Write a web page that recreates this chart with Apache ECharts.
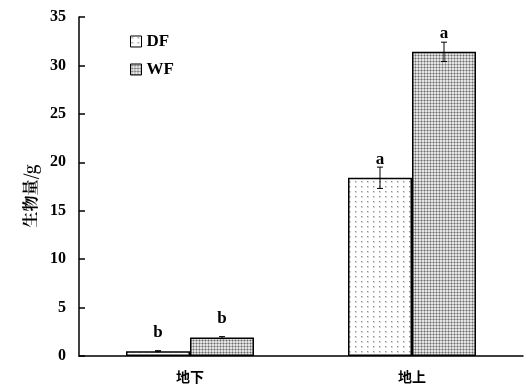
<!DOCTYPE html>
<html><head><meta charset="utf-8">
<script src="https://cdn.jsdelivr.net/npm/echarts@6/dist/echarts.min.js"></script>
<style>html,body{margin:0;padding:0;background:#fff}#c{width:529px;height:387px}</style>
</head><body><div id="c"></div>
<script>
const categories = ['地下', '地上'];
const seriesNames = ['DF', 'WF'];
const dfValues = [0.5, 18.4];
const wfValues = [1.9, 31.4];
const dfErr = [0.05, 1.1];
const wfErr = [0.1, 1.0];
const dfLetters = ['b', 'a'];
const wfLetters = ['b', 'a'];
const yTicks = [0, 5, 10, 15, 20, 25, 30, 35];

function makePattern(kind) {
  const c = document.createElement('canvas');
  const ctx = c.getContext('2d');
  if (kind === 'dots') {
    c.width = 6; c.height = 5;
    ctx.fillStyle = '#fff'; ctx.fillRect(0, 0, 6, 5);
    ctx.fillStyle = '#d8d8d8'; ctx.fillRect(1, 1, 2, 2);
    ctx.fillStyle = '#8c8c8c'; ctx.fillRect(1, 1, 1, 1);
  } else {
    c.width = 3; c.height = 3;
    ctx.fillStyle = '#e4e4e4'; ctx.fillRect(0, 0, 3, 3);
    ctx.fillStyle = '#ababab'; ctx.fillRect(0, 1, 3, 1); ctx.fillRect(1, 0, 1, 3);
    ctx.fillStyle = '#6e6e6e'; ctx.fillRect(1, 1, 1, 1);
  }
  return { image: c, repeat: 'repeat' };
}
const dfFill = makePattern('dots');
const wfFill = makePattern('check');

const serif = '"Liberation Serif", "Times New Roman", "Noto Serif CJK SC", "Noto Sans CJK SC", serif';

const chart = echarts.init(document.getElementById('c'), null, { renderer: 'canvas' });

function errSeries(values, errs, letters, idx) {
  return {
    type: 'custom',
    z: 10,
    silent: true,
    data: values.map((v, i) => [i, v, errs[i]]),
    renderItem: function (params, api) {
      const i = api.value(0), v = api.value(1), e = api.value(2);
      const letter = letters[params.dataIndex];
      const barW = 64;
      const cx = api.coord([i, 0])[0] + (idx === 0 ? -barW / 2 : barW / 2);
      const barTop = api.coord([i, v])[1];
      const top = api.coord([i, v + e])[1];
      const bot = api.coord([i, v - e])[1];
      const capW = 3;
      const st = { stroke: '#000', lineWidth: 1 };
      const letterY = Math.min(top + 2, barTop - 10);
      return {
        type: 'group',
        children: [
          { type: 'line', shape: { x1: cx, y1: top, x2: cx, y2: bot }, style: st },
          { type: 'line', shape: { x1: cx - capW, y1: top, x2: cx + capW, y2: top }, style: st },
          { type: 'line', shape: { x1: cx - capW, y1: bot, x2: cx + capW, y2: bot }, style: st },
          { type: 'text', x: cx, y: letterY, style: { text: letter, fill: '#000', font: 'bold 17px ' + serif, textAlign: 'center', textVerticalAlign: 'bottom' } }
        ]
      };
    }
  };
}

chart.setOption({
  animation: false,
  backgroundColor: '#fff',
  grid: { left: 79, right: 6, top: 17, bottom: 31, containLabel: false },
  legend: {
    orient: 'vertical', left: 125, top: 28, itemWidth: 11, itemHeight: 11, itemGap: 11,
    icon: 'rect',
    data: seriesNames,
    textStyle: { fontFamily: serif, fontWeight: 'bold', fontSize: 17, color: '#000', padding: [0, 0, 0, 0] },
    itemStyle: { borderColor: '#000', borderWidth: 1 }
  },
  graphic: [{
    type: 'text', x: 30, y: 196, rotation: Math.PI / 2,
    style: { text: '生物量/g', fill: '#000', font: 'bold 16px "Noto Serif CJK SC", "Noto Sans CJK SC", serif', textAlign: 'center', textVerticalAlign: 'middle' }
  }],
  xAxis: {
    type: 'category', data: categories,
    axisLine: { lineStyle: { color: '#000', width: 1.5 } },
    axisTick: { inside: true, length: 6, lineStyle: { color: '#000', width: 1.5 } },
    axisLabel: { fontFamily: '"Noto Sans CJK SC", sans-serif', fontWeight: 'bold', fontSize: 14, color: '#000', margin: 14 }
  },
  yAxis: {
    type: 'value', min: 0, max: 35, interval: 5,
    axisLine: { show: true, lineStyle: { color: '#000', width: 1.5 } },
    axisTick: { show: true, inside: true, length: 6, lineStyle: { color: '#000', width: 1.5 } },
    splitLine: { show: false },
    axisLabel: { fontFamily: serif, fontWeight: 'bold', fontSize: 16, color: '#000', margin: 13,
      formatter: v => yTicks.includes(v) ? String(v) : '' }
  },
  series: [
    { name: 'DF', type: 'bar', data: dfValues, barWidth: 64, barGap: '0%',
      itemStyle: { color: dfFill, borderColor: '#000', borderWidth: 1.5 } },
    { name: 'WF', type: 'bar', data: wfValues, barWidth: 64, barGap: '0%',
      itemStyle: { color: wfFill, borderColor: '#000', borderWidth: 1.5 } },
    errSeries(dfValues, dfErr, dfLetters, 0),
    errSeries(wfValues, wfErr, wfLetters, 1)
  ]
});
</script></body></html>
